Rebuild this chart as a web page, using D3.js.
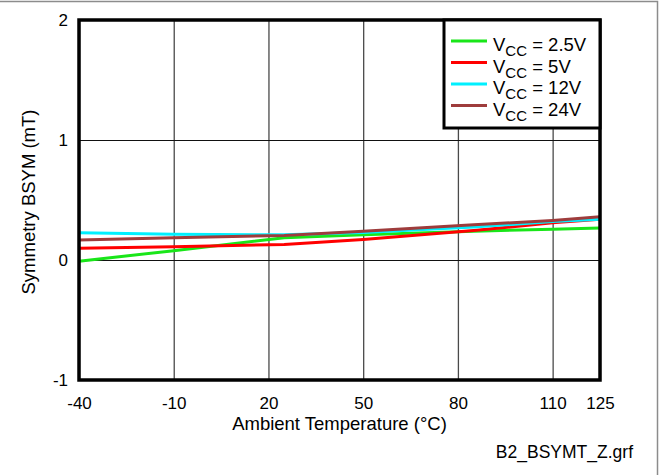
<!DOCTYPE html>
<html>
<head>
<meta charset="utf-8">
<script src="https://cdn.jsdelivr.net/npm/d3@7"></script>
<style>
  body { margin: 0; background: #fff; }
  svg { display: block; font-family: "Liberation Sans", Arial, Helvetica, sans-serif; }
</style>
</head>
<body>
<svg id="chart" width="661" height="475"></svg>
<script>
// temperature points (°C)
const temps = [-40, -10, 25, 50, 85, 110, 125];
// symmetry BSYM (mT) per supply voltage
const vcc25 = [-0.01, 0.078, 0.185, 0.21, 0.24, 0.256, 0.267];
const vcc5 = [0.097, 0.11, 0.13, 0.17, 0.245, 0.31, 0.34];
const vcc12 = [0.228, 0.214, 0.21, 0.23, 0.275, 0.32, 0.34];
const vcc24 = [0.167, 0.186, 0.205, 0.24, 0.293, 0.33, 0.36];

const seriesNames = ["2.5V", "5V", "12V", "24V"];
const seriesColors = ["#19e619", "#ff0000", "#00f0ff", "#9e3c3c"];
const seriesVals = [vcc25, vcc5, vcc12, vcc24];

const xTicks = [-40, -10, 20, 50, 80, 110, 125];
const yTicks = [-1, 0, 1, 2];

const svg = d3.select("#chart");
const plotL = 79, plotR = 600, plotT = 20, plotB = 380;

// outer gray frame
svg.append("rect")
  .attr("x", -5).attr("y", 1.5)
  .attr("width", 662.5).attr("height", 480)
  .attr("fill", "none").attr("stroke", "#8c8c8c").attr("stroke-width", 1.5);

const x = d3.scaleLinear().domain([-40, 125]).range([plotL, plotR]);
const y = d3.scaleLinear().domain([-1, 2]).range([plotB, plotT]);
const plain = d => String(d);

// vertical grid
const xGrid = svg.append("g")
  .attr("transform", `translate(0,${plotB})`)
  .call(d3.axisBottom(x).tickValues(xTicks).tickSize(-(plotB - plotT)).tickFormat(""));
xGrid.select(".domain").remove();
xGrid.selectAll("line").attr("stroke", "#4a4a4a").attr("stroke-width", 1.3);

// horizontal grid
const yGrid = svg.append("g")
  .attr("transform", `translate(${plotL},0)`)
  .call(d3.axisLeft(y).tickValues(yTicks).tickSize(-(plotR - plotL)).tickFormat(""));
yGrid.select(".domain").remove();
yGrid.selectAll("line").attr("stroke", "#111").attr("stroke-width", 1);

// tick labels
const xAxis = svg.append("g")
  .attr("transform", `translate(0,${plotB})`)
  .call(d3.axisBottom(x).tickValues(xTicks).tickFormat(plain).tickSize(0).tickPadding(0));
xAxis.select(".domain").remove();
xAxis.selectAll("text")
  .attr("y", 28.5).attr("dy", 0)
  .attr("font-size", 17).attr("fill", "#000")
  .attr("font-family", "Liberation Sans, Arial, sans-serif");

const yAxis = svg.append("g")
  .attr("transform", `translate(${plotL},0)`)
  .call(d3.axisLeft(y).tickValues(yTicks).tickFormat(plain).tickSize(0).tickPadding(11));
yAxis.select(".domain").remove();
yAxis.selectAll("text")
  .attr("font-size", 17).attr("fill", "#000")
  .attr("font-family", "Liberation Sans, Arial, sans-serif");

// series lines
const line = d3.line()
  .x((d, i) => x(temps[i]))
  .y(d => y(d));

seriesVals.forEach((vals, k) => {
  svg.append("path")
    .datum(vals)
    .attr("d", line)
    .attr("fill", "none")
    .attr("stroke", seriesColors[k])
    .attr("stroke-width", 3)
    .attr("stroke-linejoin", "round");
});

// plot frame
svg.append("rect")
  .attr("x", plotL).attr("y", plotT)
  .attr("width", plotR - plotL).attr("height", plotB - plotT)
  .attr("fill", "none").attr("stroke", "#000").attr("stroke-width", 3.5);

// legend
const lg = svg.append("g");
lg.append("rect")
  .attr("x", 444).attr("y", plotT)
  .attr("width", plotR - 444).attr("height", 108)
  .attr("fill", "#fff").attr("stroke", "#000").attr("stroke-width", 3);

seriesNames.forEach((name, k) => {
  const by = 51 + k * 21.5;
  lg.append("line")
    .attr("x1", 451).attr("x2", 487)
    .attr("y1", by - 10).attr("y2", by - 10)
    .attr("stroke", seriesColors[k]).attr("stroke-width", 3);
  const t = lg.append("text")
    .attr("x", 493).attr("y", by)
    .attr("font-size", 18.5).attr("fill", "#000");
  t.append("tspan").text("V");
  t.append("tspan").attr("dy", 5).attr("font-size", 15).text("CC");
  t.append("tspan").attr("dy", -5).text(" = " + name);
});

// axis titles
svg.append("text")
  .attr("x", (plotL + plotR) / 2).attr("y", 430)
  .attr("text-anchor", "middle")
  .attr("font-size", 18.5)
  .text("Ambient Temperature (°C)");

svg.append("text")
  .attr("transform", `translate(35,${(plotT + plotB) / 2 + 2}) rotate(-90)`)
  .attr("text-anchor", "middle")
  .attr("font-size", 18.5)
  .text("Symmetry BSYM (mT)");

svg.append("text")
  .attr("x", 633).attr("y", 457.5)
  .attr("text-anchor", "end")
  .attr("font-size", 17.5)
  .text("B2_BSYMT_Z.grf");
</script>
</body>
</html>
